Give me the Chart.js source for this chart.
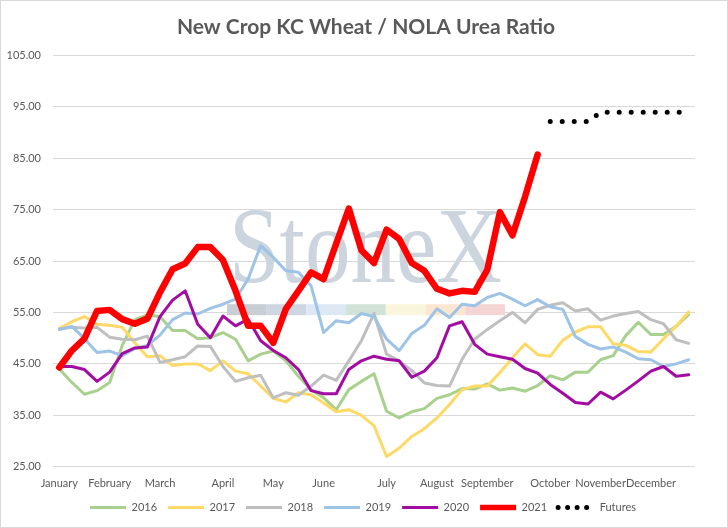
<!DOCTYPE html>
<html>
<head>
<meta charset="utf-8">
<title>New Crop KC Wheat / NOLA Urea Ratio</title>
<script src="https://cdn.jsdelivr.net/npm/chart.js@4.4.0/dist/chart.umd.min.js"></script>
<style>
    html, body { margin: 0; padding: 0; background: #fff; }
    #wrap { width: 728px; height: 528px; box-sizing: border-box; border: 1px solid #d9d9d9; }
    canvas { display: block; }
</style>
</head>
<body>
<div id="wrap"><canvas id="chartRatio" width="726" height="526"></canvas></div>
<script>
// weekly ratio, one value per week (51 weeks)
var MONTHS = ['January', 'February', 'March', 'April', 'May', 'June', 'July',
    'August', 'September', 'October', 'November', 'December'];
var MONTH_START_WEEK = [0, 4, 8, 13, 17, 21, 26, 30, 34, 39, 43, 47];
var WEEK_COUNT = 51;

var Y_TICKS = [25, 35, 45, 55, 65, 75, 85, 95, 105];

var y2016 = [44.0, 41.4, 39.1, 39.8, 41.4, 48.6, 53.6, 54.5, 54.2, 51.5, 51.5, 49.9, 50.1, 51.1, 49.8, 45.6, 46.9,
    47.5, 45.6, 42.6, 40.0, 38.4, 36.1, 40.0, 41.6, 43.1, 35.8, 34.5, 35.7, 36.3, 38.3, 39.0, 40.2, 40.1,
    41.1, 39.9, 40.3, 39.7, 40.8, 42.7, 41.9, 43.4, 43.4, 45.8, 46.6, 50.5, 53.1, 50.7, 50.7, 52.3, 54.6];
var y2017 = [51.9, 53.2, 54.2, 52.7, 52.5, 52.1, 49.1, 46.4, 46.6, 44.7, 45.0, 45.0, 43.7, 45.6, 43.6, 43.1, 40.7,
    38.3, 37.6, 39.4, 39.0, 37.4, 35.7, 36.1, 35.0, 33.0, 27.0, 28.6, 30.9, 32.4, 34.5, 37.1, 40.0, 40.7,
    40.7, 43.3, 46.2, 48.9, 46.8, 46.5, 49.6, 51.2, 52.2, 52.2, 48.9, 48.6, 47.4, 47.3, 49.9, 52.3, 55.1];
var y2018 = [51.8, 52.1, 52.0, 52.1, 50.2, 49.8, 49.7, 50.4, 45.3, 45.8, 46.4, 48.5, 48.4, 44.5, 41.6, 42.3, 42.8,
    38.4, 39.4, 38.9, 40.7, 42.8, 41.8, 45.6, 49.5, 54.8, 46.9, 45.6, 43.7, 41.3, 40.8, 40.7, 45.9, 49.8,
    51.7, 53.4, 55.0, 53.0, 55.6, 56.4, 56.9, 55.3, 55.7, 53.5, 54.3, 54.8, 55.2, 53.6, 52.8, 49.7, 49.0];
var y2019 = [51.7, 52.3, 49.9, 47.2, 47.5, 46.6, 48.0, 48.6, 50.6, 53.6, 54.9, 54.7, 55.8, 56.6, 57.6, 61.5, 68.0,
    65.7, 63.1, 62.8, 60.2, 51.1, 53.4, 53.0, 54.8, 54.2, 49.8, 47.6, 50.9, 52.5, 55.7, 54.0, 56.6, 56.3,
    57.9, 58.7, 57.6, 56.3, 57.5, 56.1, 55.6, 50.3, 48.8, 47.9, 48.3, 47.3, 46.0, 45.8, 44.5, 45.0, 45.8];
var y2020 = [44.5, 44.5, 43.9, 41.6, 43.4, 47.0, 48.1, 48.3, 54.2, 57.4, 59.2, 52.7, 50.1, 54.3, 52.4, 53.7, 49.5,
    47.6, 46.2, 43.9, 39.8, 39.2, 39.2, 43.9, 45.6, 46.5, 45.9, 45.6, 42.4, 43.6, 46.2, 52.4, 53.2, 48.8,
    46.9, 46.4, 45.9, 44.1, 43.2, 41.0, 39.3, 37.5, 37.2, 39.5, 38.2, 39.9, 41.7, 43.6, 44.5, 42.6, 42.9];
var y2021 = [44.3, 47.6, 49.9, 55.3, 55.5, 53.7, 52.8, 53.8, 58.9, 63.4, 64.5, 67.7, 67.7, 65.2, 59.2, 52.4, 52.4,
    49.1, 55.7, 59.2, 62.8, 61.5, 68.4, 75.2, 67.1, 64.6, 71.1, 69.3, 64.6, 63.1, 59.6, 58.7, 59.2, 59.0,
    63.3, 74.5, 70.0, 77.5, 85.7];
// futures start the week after the last 2021 print
var FUTURES_START_WEEK = 39;
var futuresValues = [92.1, 92.1, 92.1, 92.1, 93.9, 93.9, 93.9, 93.9, 93.9, 93.9, 93.9, 93.9];

var TEXT = '#595959';
var GRID = '#d9d9d9';
var FONT = 'Lato, "Open Sans", sans-serif';

function buildWeekLabels() {
    var labels = [];
    for (var i = 0; i < WEEK_COUNT; i++) labels.push('');
    MONTH_START_WEEK.forEach(function (w, m) { labels[w] = MONTHS[m]; });
    return labels;
}

function buildFutures() {
    var out = [];
    for (var i = 0; i < FUTURES_START_WEEK; i++) out.push(null);
    return out.concat(futuresValues);
}

function lineSet(label, data, color, width, order) {
    return {
        label: label,
        data: data,
        borderColor: color,
        backgroundColor: color,
        borderWidth: width,
        borderJoinStyle: 'round',
        borderCapStyle: 'round',
        pointRadius: 0,
        tension: 0,
        fill: false,
        order: order,
        legendWidth: width
    };
}

// StoneX logo watermark behind the series
var watermark = {
    id: 'watermark',
    beforeDatasetsDraw: function (chart) {
        var ctx = chart.ctx;
        var a = chart.chartArea;
        var x0 = a.left + 176;
        var textW = 273;
        ctx.save();
        ctx.font = '108px "Liberation Serif", "DejaVu Serif", serif';
        var w = ctx.measureText('StoneX').width;
        ctx.translate(x0, a.top + 227);
        ctx.scale(textW / w, 1);
        ctx.fillStyle = '#ccd4de';
        ctx.textBaseline = 'alphabetic';
        ctx.fillText('StoneX', 0, 0);
        ctx.restore();

        var band = ['#c9ced5', '#cdd6e1', '#dde8f4', '#d1e3d6', '#faf6dd', '#fbe6d2', '#f5d4d4'];
        var segW = 278 / band.length;
        ctx.save();
        band.forEach(function (c, i) {
            ctx.fillStyle = c;
            ctx.fillRect(x0 - 2 + i * segW, a.top + 249, segW, 11);
        });
        ctx.restore();
    }
};

// title and legend sit centred on the whole picture, not on the padded box
var nudgeBoxes = {
    id: 'nudgeBoxes',
    afterLayout: function (chart) {
        var lg = chart.legend;
        if (lg) {
            lg.left += 12; lg.right += 12;
            lg.top -= 9; lg.bottom -= 9;
        }
        var tb = chart.titleBlock;
        if (tb) { tb.left += 15; tb.right += 15; }
    }
};

function initChart() {
    var canvas = document.getElementById('chartRatio');
    var datasets = [
        lineSet('2016', y2016, '#a9d18e', 3, 7),
        lineSet('2017', y2017, '#ffd966', 3, 6),
        lineSet('2018', y2018, '#bfbfbf', 3, 5),
        lineSet('2019', y2019, '#9dc3e6', 3, 4),
        lineSet('2020', y2020, '#a30ca3', 3, 3),
        lineSet('2021', y2021, '#ff0000', 6.5, 2)
    ];
    var fut = lineSet('Futures', buildFutures(), '#000000', 5, 1);
    fut.borderDash = [0, 12];
    fut.legendDash = [0, 9.5];
    fut.legendWidth = 5;
    datasets.push(fut);
    datasets[5].legendWidth = 5.5;

    new Chart(canvas, {
        type: 'line',
        data: { labels: buildWeekLabels(), datasets: datasets },
        options: {
            responsive: false,
            animation: false,
            layout: { padding: { left: 6, right: 32, top: 0, bottom: -5 } },
            plugins: {
                title: {
                    display: true,
                    text: 'New Crop KC Wheat / NOLA Urea Ratio',
                    color: TEXT,
                    font: { family: FONT, size: 21, weight: 'bold' },
                    padding: { top: 14, bottom: 15 }
                },
                legend: {
                    position: 'bottom',
                    labels: {
                        usePointStyle: true,
                        pointStyleWidth: 36,
                        boxHeight: 11,
                        padding: 11,
                        color: TEXT,
                        font: { family: FONT, size: 11 },
                        generateLabels: function (chart) {
                            return chart.data.datasets.map(function (ds, i) {
                                return {
                                    text: ds.label,
                                    fillStyle: ds.borderColor,
                                    strokeStyle: ds.borderColor,
                                    lineWidth: ds.legendWidth,
                                    lineDash: ds.legendDash || [],
                                    lineCap: ds.legendDash ? 'round' : 'butt',
                                    pointStyle: 'line',
                                    fontColor: TEXT,
                                    datasetIndex: i
                                };
                            });
                        }
                    }
                },
                tooltip: { enabled: false }
            },
            scales: {
                x: {
                    offset: true,
                    grid: { display: false, drawTicks: false },
                    border: { display: false },
                    ticks: {
                        autoSkip: false,
                        maxRotation: 0,
                        padding: 10,
                        color: TEXT,
                        font: { family: FONT, size: 11 }
                    }
                },
                y: {
                    min: Y_TICKS[0],
                    max: Y_TICKS[Y_TICKS.length - 1],
                    afterBuildTicks: function (scale) {
                        scale.ticks = Y_TICKS.map(function (v) { return { value: v }; });
                    },
                    afterFit: function (scale) { scale.width = 46; },
                    grid: { color: GRID, lineWidth: 1, drawTicks: false },
                    border: { display: false },
                    ticks: {
                        padding: 12,
                        color: TEXT,
                        font: { family: FONT, size: 11 },
                        callback: function (v) { return Number(v).toFixed(2); }
                    }
                }
            }
        },
        plugins: [watermark, nudgeBoxes]
    });
}

initChart();
</script>
</body>
</html>
